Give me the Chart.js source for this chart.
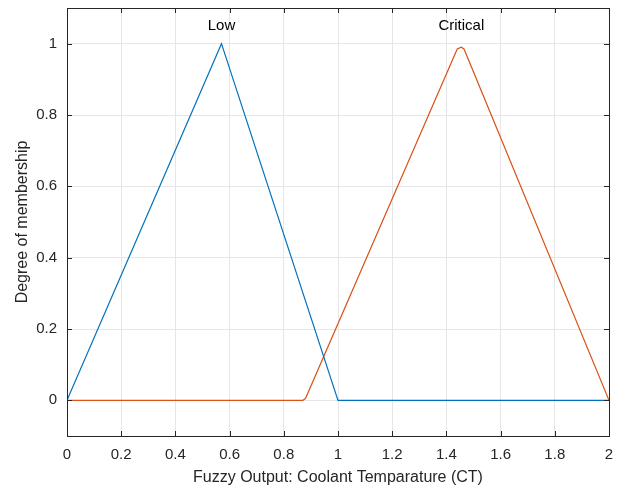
<!DOCTYPE html>
<html>
<head>
<meta charset="utf-8">
<script src="https://cdn.jsdelivr.net/npm/chart.js@4/dist/chart.umd.min.js"></script>
<style>
  body { margin: 0; background: #fff; }
  #wrap { width: 623px; height: 494px; }
</style>
</head>
<body>
<div id="wrap"><canvas id="mfChart" width="623" height="494"></canvas></div>
<script>
// membership function breakpoints (x, degree)
const lowX = [0, 0.57, 1, 2];
const lowY = [0, 1, 0, 0];
const criticalX = [0, 0.87, 0.88, 1.44, 1.455, 1.465, 2];
const criticalY = [0, 0, 0.005, 0.985, 0.99, 0.985, 0];
const xTicks = [0, 0.2, 0.4, 0.6, 0.8, 1, 1.2, 1.4, 1.6, 1.8, 2];
const yTicks = [0, 0.2, 0.4, 0.6, 0.8, 1];
const mfNames = ['Low', 'Critical'];
const mfPeaks = [0.57, 1.455];

const toPoints = (xs, ys) => xs.map((x, i) => ({ x: x, y: ys[i] }));
const axisColor = '#262626';
const fontFamily = '"Liberation Sans", Arial, sans-serif';

// draws the box, inward ticks and the MF names
const boxPlugin = {
    id: 'box',
    afterDraw(chart) {
        const { ctx, chartArea: a, scales } = chart;
        ctx.save();
        ctx.strokeStyle = axisColor;
        ctx.lineWidth = 1;
        ctx.strokeRect(Math.round(a.left) + 0.5, Math.round(a.top) + 0.5,
            Math.round(a.right - a.left), Math.round(a.bottom - a.top));
        ctx.beginPath();
        xTicks.forEach(v => {
            const px = Math.round(scales.x.getPixelForValue(v)) + 0.5;
            ctx.moveTo(px, a.bottom); ctx.lineTo(px, a.bottom - 5);
            ctx.moveTo(px, a.top); ctx.lineTo(px, a.top + 5);
        });
        yTicks.forEach(v => {
            const py = Math.round(scales.y.getPixelForValue(v)) + 0.5;
            ctx.moveTo(a.left, py); ctx.lineTo(a.left + 5, py);
            ctx.moveTo(a.right, py); ctx.lineTo(a.right - 5, py);
        });
        ctx.stroke();
        ctx.fillStyle = '#000';
        ctx.font = '15px ' + fontFamily;
        ctx.textAlign = 'center';
        ctx.textBaseline = 'middle';
        mfNames.forEach((name, i) => {
            ctx.fillText(name, scales.x.getPixelForValue(mfPeaks[i]), scales.y.getPixelForValue(1.05));
        });
        ctx.restore();
    }
};

new Chart(document.getElementById('mfChart'), {
    type: 'scatter',
    data: {
        datasets: [{
            label: 'Low',
            data: toPoints(lowX, lowY),
            showLine: true,
            borderColor: '#0072BD',
            borderWidth: 1.2,
            pointRadius: 0,
            tension: 0
        }, {
            label: 'Critical',
            data: toPoints(criticalX, criticalY),
            showLine: true,
            borderColor: '#D95319',
            borderWidth: 1.2,
            pointRadius: 0,
            tension: 0
        }]
    },
    options: {
        responsive: false,
        animation: false,
        layout: { padding: { top: 8, right: 14, left: 0, bottom: 0 } },
        plugins: {
            legend: { display: false },
            tooltip: { enabled: false }
        },
        scales: {
            x: {
                type: 'linear',
                min: 0,
                max: 2,
                afterBuildTicks: s => { s.ticks = xTicks.map(v => ({ value: v })); },
                afterFit: s => { s.height = 58; s.paddingLeft = 0; s.paddingRight = 0; },
                grid: { color: '#e6e6e6', drawTicks: false },
                border: { display: false },
                ticks: {
                    color: axisColor,
                    padding: 10,
                    maxRotation: 0,
                    font: { family: fontFamily, size: 15 },
                    callback: v => String(Math.round(v * 10) / 10)
                },
                title: {
                    display: true,
                    text: 'Fuzzy Output: Coolant Temparature (CT)',
                    color: axisColor,
                    font: { family: fontFamily, size: 16 },
                    padding: { top: 4, bottom: 7 }
                }
            },
            y: {
                type: 'linear',
                min: -0.1,
                max: 1.1,
                afterBuildTicks: s => { s.ticks = yTicks.map(v => ({ value: v })); },
                afterFit: s => { s.width = 67; s.paddingTop = 0; s.paddingBottom = 0; },
                grid: { color: '#e6e6e6', drawTicks: false },
                border: { display: false },
                ticks: {
                    color: axisColor,
                    padding: 10,
                    font: { family: fontFamily, size: 15 },
                    callback: v => String(Math.round(v * 10) / 10)
                },
                title: {
                    display: true,
                    text: 'Degree of membership',
                    color: axisColor,
                    font: { family: fontFamily, size: 16 },
                    padding: { top: 13, bottom: 0 }
                }
            }
        }
    },
    plugins: [boxPlugin]
});
</script>
</body>
</html>
